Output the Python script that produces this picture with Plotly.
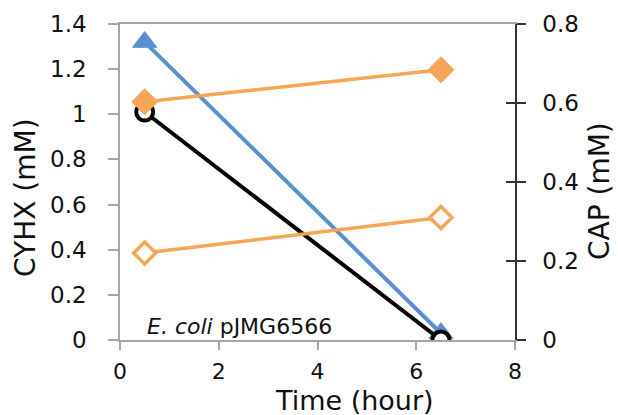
import plotly.graph_objects as go

# ---- data ----
time_h = [0.5, 6.5]
cyhx_blue = [1.32, 0.03]          # CYHX (left axis), filled triangles
cyhx_black = [1.01, 0.0]          # CYHX (left axis), open circles
cap_filled = [0.603, 0.684]       # CAP (right axis), filled diamonds
cap_open = [0.22, 0.31]           # CAP (right axis), open diamonds

x_ticks = [0, 2, 4, 6, 8]
left_ticks = [0, 0.2, 0.4, 0.6, 0.8, 1, 1.2, 1.4]
right_ticks = [0, 0.2, 0.4, 0.6, 0.8]

BLUE = "#5b8fd0"
ORANGE = "#f5a657"
FONT = "DejaVu Sans"
TXT = "#111111"

fig = go.Figure()

fig.add_trace(go.Scatter(x=time_h, y=cap_open, yaxis="y2", mode="lines+markers",
                         line=dict(color=ORANGE, width=3.5),
                         marker=dict(symbol="diamond", size=17, color="white",
                                     line=dict(color=ORANGE, width=3.5)),
                         showlegend=False))
fig.add_trace(go.Scatter(x=time_h, y=cap_filled, yaxis="y2", mode="lines+markers",
                         line=dict(color=ORANGE, width=3.5),
                         marker=dict(symbol="diamond", size=20, color=ORANGE,
                                     line=dict(color=ORANGE, width=1)),
                         showlegend=False))
fig.add_trace(go.Scatter(x=time_h, y=cyhx_blue, mode="lines+markers",
                         line=dict(color=BLUE, width=4),
                         marker=dict(symbol="triangle-up", size=21, color=BLUE,
                                     line=dict(color=BLUE, width=1)),
                         showlegend=False))
fig.add_trace(go.Scatter(x=time_h, y=cyhx_black, mode="lines+markers",
                         line=dict(color="black", width=4),
                         marker=dict(symbol="circle", size=17, color="white",
                                     line=dict(color="black", width=4)),
                         showlegend=False))

fig.update_layout(
    width=618, height=415,
    margin=dict(l=120, r=103, t=24, b=75, autoexpand=False),
    paper_bgcolor="white", plot_bgcolor="white",
    font=dict(family=FONT, color=TXT, size=22),
    xaxis=dict(range=[0, 8], tickvals=x_ticks, showgrid=False, zeroline=False,
               showline=True, linecolor="#a6a6a6", linewidth=1.5, mirror=True,
               ticks="outside", ticklen=8, tickcolor="#a6a6a6", tickwidth=1.5,
               ticklabelstandoff=3,
               tickfont=dict(size=22, color=TXT, family=FONT)),
    yaxis=dict(range=[0, 1.4], tickvals=left_ticks, showgrid=False, zeroline=False,
               showline=True, linecolor="#a6a6a6", linewidth=1.5,
               ticks="outside", ticklen=10, tickcolor="#a6a6a6", tickwidth=1.5,
               ticklabelstandoff=17,
               tickfont=dict(size=23, color=TXT, family=FONT)),
    yaxis2=dict(range=[0, 0.8], tickvals=right_ticks, overlaying="y", side="right",
                showgrid=False, zeroline=False, showline=True, linecolor="#333333",
                linewidth=1.5, ticks="outside", ticklen=9, tickcolor="#333333",
                tickwidth=1.5, ticklabelstandoff=12,
                tickfont=dict(size=23, color=TXT, family=FONT)),
    yaxis3=dict(range=[0, 0.8], tickvals=right_ticks, overlaying="y", side="right",
                anchor="x", showgrid=False, zeroline=False, showline=False,
                ticks="inside", ticklen=9, tickcolor="#333333", tickwidth=1.5,
                showticklabels=False),
)

# invisible trace to activate yaxis3 (inner half of the cross ticks)
fig.add_trace(go.Scatter(x=[None], y=[None], yaxis="y3", showlegend=False,
                         hoverinfo="skip"))

def px_x(p):
    return (p - 120) / 395.0

def px_y(p):
    return (340 - p) / 316.0

fig.add_annotation(text="CYHX (mM)", xref="paper", yref="paper",
                   x=px_x(25), y=px_y(198), textangle=-90, showarrow=False,
                   xanchor="center", yanchor="middle",
                   font=dict(size=28, family=FONT, color=TXT))
fig.add_annotation(text="CAP (mM)", xref="paper", yref="paper",
                   x=px_x(600), y=px_y(191), textangle=-90, showarrow=False,
                   xanchor="center", yanchor="middle",
                   font=dict(size=28, family=FONT, color=TXT))
fig.add_annotation(text="Time (hour)", xref="paper", yref="paper",
                   x=px_x(354), y=px_y(400), showarrow=False,
                   xanchor="center", yanchor="middle",
                   font=dict(size=27, family=FONT, color=TXT))
fig.add_annotation(text="<i>E. coli</i> pJMG6566", xref="paper", yref="paper",
                   x=px_x(145), y=px_y(326), showarrow=False,
                   xanchor="left", yanchor="middle",
                   font=dict(size=22, family=FONT, color=TXT))

fig.write_html("out.html", config={"displayModeBar": False},
               post_script="document.body.style.margin='0';document.body.style.padding='0';")
